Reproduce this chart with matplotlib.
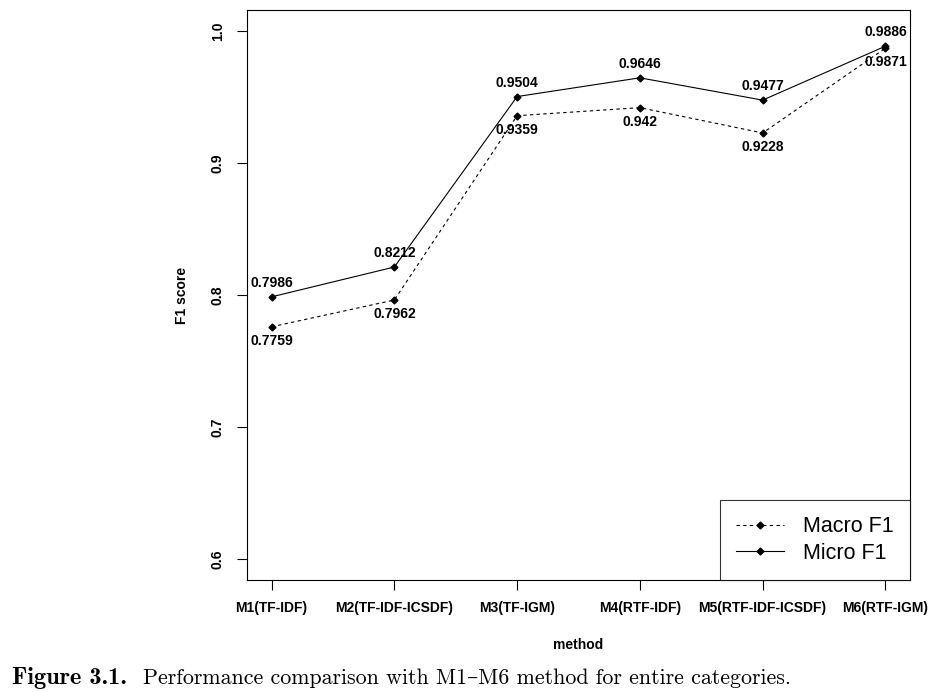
import matplotlib.pyplot as plt
from matplotlib import font_manager

# data
methods = ['M1(TF-IDF)', 'M2(TF-IDF-ICSDF)', 'M3(TF-IGM)', 'M4(RTF-IDF)',
           'M5(RTF-IDF-ICSDF)', 'M6(RTF-IGM)']
macro_f1 = [0.7759, 0.7962, 0.9359, 0.942, 0.9228, 0.9871]
micro_f1 = [0.7986, 0.8212, 0.9504, 0.9646, 0.9477, 0.9886]
y_ticks = [0.6, 0.7, 0.8, 0.9, 1.0]

names = {f.name for f in font_manager.fontManager.ttflist}
narrow = 'Liberation Sans Narrow' if 'Liberation Sans Narrow' in names else 'Liberation Sans'

fig = plt.figure(figsize=(9.47, 6.92), dpi=100)
ax = fig.add_axes([247 / 947, 1 - 580 / 692, 663 / 947, 570 / 692])

x = list(range(1, len(methods) + 1))
ax.plot(x, macro_f1, color='black', lw=0.8, ls=(0, (3, 3)), marker='D', ms=3.5,
        label='Macro F1')
ax.plot(x, micro_f1, color='black', lw=0.8, ls='-', marker='D', ms=3.5,
        label='Micro F1')

for xi, v in zip(x, micro_f1):
    ax.annotate(f'{v:g}', (xi, v), xytext=(0, 5), textcoords='offset points',
                ha='center', va='bottom', fontsize=10, fontweight='bold', family=narrow)
for xi, v in zip(x, macro_f1):
    ax.annotate(f'{v:g}', (xi, v), xytext=(0, -5), textcoords='offset points',
                ha='center', va='top', fontsize=10, fontweight='bold', family=narrow)

ax.set_xlim(0.8, 6.2)
ax.set_ylim(0.584, 1.016)
ax.set_xticks(x)
ax.set_xticklabels(methods, fontsize=10, fontweight='bold', family=narrow)
ax.set_yticks(y_ticks)
ax.set_yticklabels([f'{t:.1f}' for t in y_ticks], rotation=90, va='center',
                   fontsize=10, fontweight='bold', family=narrow)
ax.tick_params(axis='x', direction='out', length=7, width=0.8, pad=8)
ax.tick_params(axis='y', direction='out', length=7, width=0.8, pad=9)
for s in ax.spines.values():
    s.set_linewidth(0.8)

ax.set_xlabel('method', fontsize=10, fontweight='bold', family=narrow, labelpad=17)
ax.set_ylabel('F1 score', fontsize=10, fontweight='bold', family=narrow, labelpad=16)

leg = ax.legend(loc='lower right', frameon=True, fancybox=False,
                borderaxespad=0, handlelength=2.2, borderpad=0.75,
                labelspacing=0.25, handletextpad=0.9,
                prop={'family': 'Liberation Sans', 'size': 15.5})
leg.get_frame().set_edgecolor('black')
leg.get_frame().set_linewidth(0.8)

fig.text(12 / 947, 1 - 684 / 692, 'Figure 3.1.', family=['cmb10', 'DejaVu Serif'],
         fontsize=17.5, va='baseline')
fig.text(143 / 947, 1 - 684 / 692,
         'Performance comparison with M1\u2013M6 method for entire categories.',
         family=['cmr10', 'DejaVu Serif'], fontsize=15.8, va='baseline')

fig.savefig('out.png', dpi=100)
